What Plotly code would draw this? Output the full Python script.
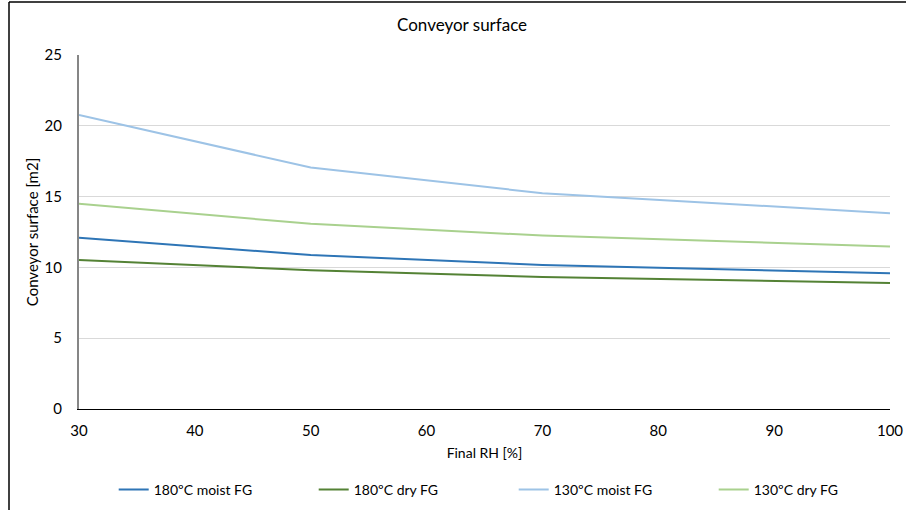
import plotly.graph_objects as go

rh = [30, 50, 70, 100]
moist_180 = [12.1, 10.87, 10.17, 9.58]
dry_180 = [10.52, 9.8, 9.32, 8.9]
moist_130 = [20.77, 17.05, 15.24, 13.83]
dry_130 = [14.49, 13.08, 12.25, 11.48]

series = [
    ("180ºC moist FG", moist_180, "#2E75B6"),
    ("180ºC dry FG", dry_180, "#548235"),
    ("130ºC moist FG", moist_130, "#9DC3E6"),
    ("130ºC dry FG", dry_130, "#A9D18E"),
]

FONT = "Lato"
fig = go.Figure()
for name, vals, col in series:
    fig.add_trace(go.Scatter(x=rh, y=vals, mode="lines", name=name,
                             line=dict(color=col, width=2)))

fig.update_layout(
    width=906, height=510,
    margin=dict(l=79, r=16, t=55, b=101),
    paper_bgcolor="white", plot_bgcolor="white",
    font=dict(family=FONT, color="#000000", size=14),
    title=dict(text="Conveyor surface", x=0.51, xanchor="center", y=0.95, yanchor="middle",
               font=dict(family=FONT, size=17, color="#000000")),
    showlegend=True,
    legend=dict(orientation="h", xref="container", yref="container",
                x=0.567, xanchor="center", y=1 - 490 / 510, yanchor="middle",
                entrywidth=155, entrywidthmode="pixels",
                font=dict(family=FONT, size=14, color="#000000"), itemwidth=30),
    xaxis=dict(range=[30, 100], tickvals=[30, 40, 50, 60, 70, 80, 90, 100], automargin=False,
               showgrid=False, zeroline=False, showline=True, linecolor="#000000", linewidth=1,
               ticks="", tickfont=dict(family=FONT, size=15), ticklabelstandoff=8,
               title=dict(text="Final RH [%]", font=dict(family=FONT, size=14), standoff=10)),
    yaxis=dict(range=[0, 25], tickvals=[0, 5, 10, 15, 20, 25], automargin=False,
               showgrid=True, gridcolor="#D9D9D9", gridwidth=1, zeroline=False,
               showline=True, linecolor="#868686", linewidth=2,
               ticks="", tickfont=dict(family=FONT, size=15), ticklabelstandoff=12,
               title=dict(text="Conveyor surface [m2]", font=dict(family=FONT, size=15), standoff=2)),
)

# outer chart border (left and top edges visible)
fig.add_shape(type="line", xref="paper", yref="paper", x0=(9 - 79) / 811, x1=(9 - 79) / 811,
              y0=1 + (55 - 2) / 354, y1=-(510 - 409) / 354, line=dict(color="#000000", width=1.5))
fig.add_shape(type="line", xref="paper", yref="paper", x0=(9 - 79) / 811, x1=(906 - 79) / 811,
              y0=1 + (55 - 2) / 354, y1=1 + (55 - 2) / 354, line=dict(color="#000000", width=1.5))

fig.write_html("out.html")
